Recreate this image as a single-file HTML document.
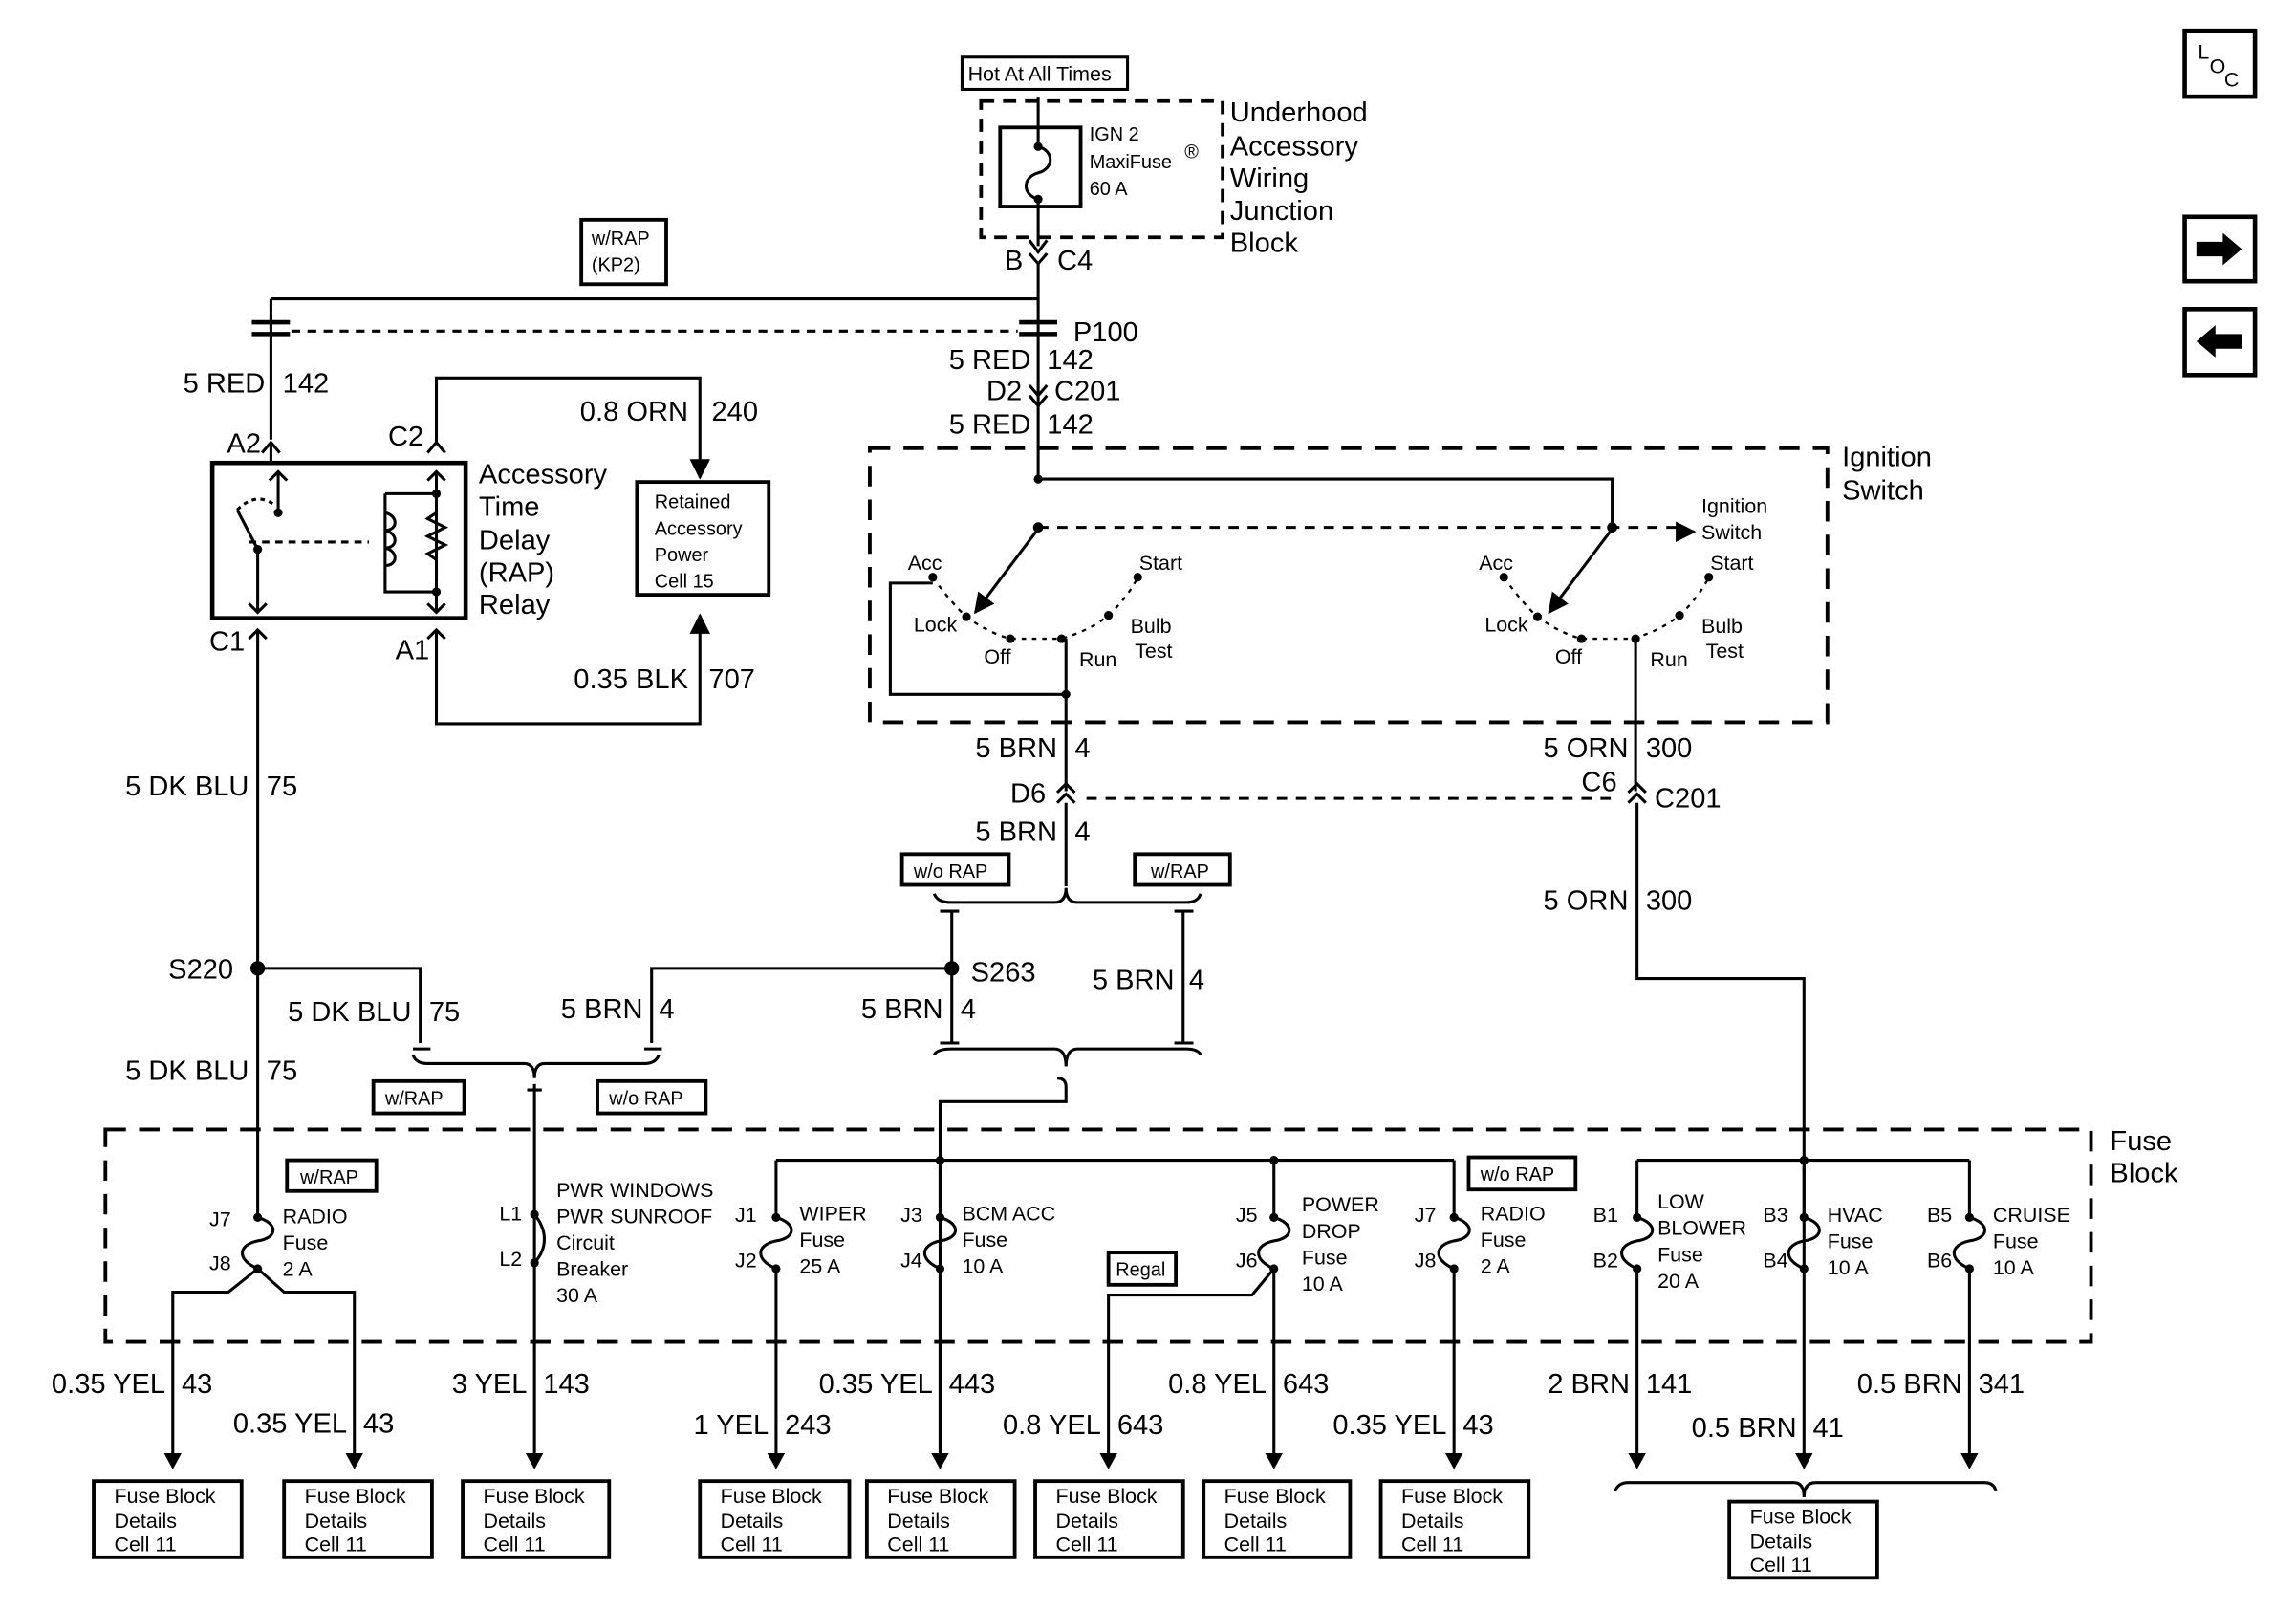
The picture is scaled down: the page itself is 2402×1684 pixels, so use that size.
<!DOCTYPE html>
<html><head><meta charset="utf-8"><style>
html,body{margin:0;padding:0;background:#fff}
svg{display:block}
text{font-family:"Liberation Sans",Arial,sans-serif;fill:#000}
.b{font-size:19px}.s{font-size:14px}.m{font-size:13px}
</style></head><body>
<svg width="2402" height="1684" viewBox="0 0 1568 1099" preserveAspectRatio="none" xmlns="http://www.w3.org/2000/svg">
<defs>
<marker id="ar" viewBox="0 0 10 10" refX="9" refY="5" markerWidth="7" markerHeight="7" orient="auto"><path d="M0,0 L10,5 L0,10z" fill="#000"/></marker>
</defs>
<g fill="none" stroke="#000" stroke-width="2">
<rect x="1492" y="21" width="48" height="45" stroke-width="3"/>
<rect x="1492" y="148" width="48" height="44" stroke-width="3"/>
<rect x="1492" y="211" width="48" height="45" stroke-width="3"/>
<rect x="657" y="39" width="113" height="22"/>
<rect x="670" y="69" width="165" height="93" stroke-dasharray="9,6" stroke-width="2.5"/>
<rect x="683" y="87" width="55" height="54" stroke-width="2.5"/>
<path d="M709,66 V100 C720,103 720,115 709,118 C698,121 698,133 709,136 V168"/>
<path d="M703,164 L709,172 L715,164"/>
<path d="M703,173 L709,180 L715,173"/>
<path d="M709,180 V330"/>
<rect x="397" y="150" width="58" height="44" stroke-width="2.5"/>
<path d="M185,204 H709"/>
<path d="M185,204 V300"/>
<path d="M199,226 H695" stroke-dasharray="6,5"/>
<path d="M172,220 H198 M172,228 H198 M696,220 H722 M696,228 H722" stroke-width="3"/>
<path d="M703,263 L709,270 L715,263 M703,270 L709,277 L715,270"/>
<path d="M179,309 L185,302 L191,309 M185,302 V316"/>
<rect x="145" y="316" width="173" height="106" stroke-width="3"/>
<path d="M292,309 L298,302 L304,309 M298,302 V258 H478 V326" marker-end="url(#ar)"/>
<path d="M298,322 V418 M292,328 L298,322 L304,328 M292,412 L298,418 L304,412"/>
<path d="M190,322 V350 M184,328 L190,322 L196,328"/>
<path d="M176,375 V418 M170,412 L176,418 L182,412"/>
<path d="M176,375 L162,348" />
<path d="M162,348 Q175,335 188,345" stroke-dasharray="3,3"/>
<path d="M170,370 H252" stroke-dasharray="5,4"/>
<path d="M263,337 H298 M263,337 V404 H298 M263,350 C272,352 272,362 263,362 C272,364 272,374 263,374 C272,376 272,386 263,386"/>
<path d="M298,350 L292,354 L304,360 L292,366 L304,372 L292,378 L298,382"/>
<path d="M170,436 L176,430 L182,436 M176,430 V831"/>
<path d="M292,436 L298,430 L304,436 M298,430 V494 H478 V420" marker-end="url(#ar)"/>
<rect x="435" y="329" width="90" height="77" stroke-width="2.5"/>
<rect x="594" y="306" width="654" height="187" stroke-dasharray="14,9" stroke-width="2.5"/>
<path d="M709,327 H1101 V360"/>
<path d="M709,360 H1150" stroke-dasharray="7,6"/>
<path d="M1148,363 L1157,363" marker-end="url(#ar)"/>
<path d="M709,361 L666,418" marker-end="url(#ar)"/>
<path d="M1101,361 L1058,418" marker-end="url(#ar)"/>
<g stroke-dasharray="3,4" stroke-width="1.5">
<path d="M637,394 Q650,412 660,421 Q675,432 690,436 H725 Q745,430 757,420 Q770,408 777,394"/>
<path d="M1027,394 Q1040,412 1050,421 Q1065,432 1080,436 H1115 Q1135,430 1147,420 Q1160,408 1167,394"/>
</g>
<path d="M637,398 H608 V474 H728 M728,436 V540"/>
<path d="M1117,436 V540"/>
<path d="M722,541 L728,535 L734,541 M722,548 L728,542 L734,548 M728,548 V605"/>
<path d="M1112,541 L1118,535 L1124,541 M1112,548 L1118,542 L1124,548 M1118,548 V668 H1232 V1000"/>
<path d="M742,545 H1104" stroke-dasharray="7,6"/>
<rect x="616" y="583" width="73" height="21" stroke-width="2.5"/>
<rect x="775" y="583" width="65" height="21" stroke-width="2.5"/>
<path d="M638,610 Q640,616 650,616 H720 Q728,616 728,606 Q728,616 736,616 H810 Q818,616 820,610"/>
<path d="M638,720 Q640,716 650,716 H720 Q728,716 728,728 Q728,716 736,716 H810 Q818,716 820,720"/>
<path d="M642,622 H655 M650,622 V712 M642,712 H655 M802,622 H815 M808,622 V712 M802,712 H815"/>
<path d="M722,736 Q728,736 728,742 V752 H642 V1000"/>
<path d="M650,661 H445 V712 M440,716 H452"/>
<path d="M176,661 H287 V712 M282,716 H294"/>
<path d="M282,720 Q284,726 292,726 H358 Q365,726 365,736 Q365,726 372,726 H440 Q448,726 450,720"/>
<path d="M360,744 H370 M365,740 V1000"/>
<rect x="255" y="738" width="62" height="22" stroke-width="2.5"/>
<rect x="408" y="738" width="74" height="22" stroke-width="2.5"/>
<rect x="72" y="771" width="1356" height="145" stroke-dasharray="14,9" stroke-width="2.5"/>
<rect x="196" y="792" width="61" height="21" stroke-width="2.5"/>
<rect x="1003" y="790" width="73" height="22" stroke-width="2.5"/>
<rect x="757" y="855" width="46" height="22" stroke-width="2.5"/>
<path d="M530,792 H993 M1118,792 H1345"/>
<path d="M176,831 C190,835 190,845 176,847 C162,850 162,860 176,866 L156,882 H118 V1000 M176,866 L194,882 H242 V1000"/>
<path d="M365,829 C374,840 374,852 365,862"/>
<path d="M530,792 V831 C544,835 544,845 530,847 C516,850 516,860 530,866 V1000"/>
<path d="M642,792 V831 C656,835 656,845 642,847 C628,850 628,860 642,866 V1000"/>
<path d="M870,792 V831 C884,835 884,845 870,847 C856,850 856,860 870,866 V1000 M870,866 L855,884 H757 V1000"/>
<path d="M993,792 V831 C1007,835 1007,845 993,847 C979,850 979,860 993,866 V1000"/>
<path d="M1118,792 V831 C1132,835 1132,845 1118,847 C1104,850 1104,860 1118,866 V1000"/>
<path d="M1232,792 V831 C1246,835 1246,845 1232,847 C1218,850 1218,860 1232,866"/>
<path d="M1345,792 V831 C1359,835 1359,845 1345,847 C1331,850 1331,860 1345,866 V1000"/>
<g stroke-width="2.5">
<rect x="64" y="1011" width="101" height="52"/><rect x="194" y="1011" width="101" height="52"/>
<rect x="316" y="1011" width="100" height="52"/><rect x="478" y="1011" width="102" height="52"/>
<rect x="592" y="1011" width="101" height="52"/><rect x="707" y="1011" width="101" height="52"/>
<rect x="822" y="1011" width="100" height="52"/><rect x="943" y="1011" width="101" height="52"/>
<rect x="1181" y="1025" width="101" height="52"/>
</g>
<path d="M1103,1018 Q1105,1012 1112,1012 H1225 Q1232,1012 1232,1022 Q1232,1012 1240,1012 H1355 Q1362,1012 1363,1018"/>
</g>
<g fill="#000">
<path d="M112,992 L118,1003 L124,992z"/><path d="M236,992 L242,1003 L248,992z"/><path d="M359,992 L365,1003 L371,992z"/>
<path d="M524,992 L530,1003 L536,992z"/><path d="M636,992 L642,1003 L648,992z"/><path d="M751,992 L757,1003 L763,992z"/>
<path d="M864,992 L870,1003 L876,992z"/><path d="M987,992 L993,1003 L999,992z"/><path d="M1112,992 L1118,1003 L1124,992z"/>
<path d="M1226,992 L1232,1003 L1238,992z"/><path d="M1339,992 L1345,1003 L1351,992z"/>
<path d="M1500,165 H1518 V159 L1531,170 L1518,181 V175 H1500z"/>
<path d="M1531,228 H1513 V222 L1500,233 L1513,244 V238 H1531z"/>
<circle cx="709" cy="100" r="3"/><circle cx="709" cy="136" r="3"/>
<circle cx="190" cy="350" r="3"/><circle cx="176" cy="375" r="3"/><circle cx="298" cy="337" r="3"/><circle cx="298" cy="404" r="3"/>
<circle cx="709" cy="327" r="3"/><circle cx="709" cy="360" r="3.5"/><circle cx="1101" cy="360" r="3.5"/>
<circle cx="637" cy="394" r="3"/><circle cx="660" cy="421" r="3"/><circle cx="690" cy="436" r="3"/><circle cx="725" cy="436" r="3"/><circle cx="757" cy="420" r="3"/><circle cx="777" cy="394" r="3"/>
<circle cx="1027" cy="394" r="3"/><circle cx="1050" cy="421" r="3"/><circle cx="1080" cy="436" r="3"/><circle cx="1117" cy="436" r="3"/><circle cx="1147" cy="420" r="3"/><circle cx="1167" cy="394" r="3"/>
<circle cx="728" cy="474" r="3"/>
<circle cx="176" cy="661" r="5"/><circle cx="650" cy="661" r="5"/>
<circle cx="176" cy="831" r="3"/><circle cx="176" cy="866" r="3"/><circle cx="365" cy="829" r="3"/><circle cx="365" cy="862" r="3"/>
<circle cx="530" cy="831" r="3"/><circle cx="530" cy="866" r="3"/><circle cx="642" cy="831" r="3"/><circle cx="642" cy="866" r="3"/>
<circle cx="870" cy="831" r="3"/><circle cx="870" cy="866" r="3"/><circle cx="993" cy="831" r="3"/><circle cx="993" cy="866" r="3"/>
<circle cx="1118" cy="831" r="3"/><circle cx="1118" cy="866" r="3"/><circle cx="1232" cy="831" r="3"/><circle cx="1232" cy="866" r="3"/><circle cx="1345" cy="831" r="3"/><circle cx="1345" cy="866" r="3"/>
<circle cx="1232" cy="792" r="3"/><circle cx="642" cy="792" r="3"/><circle cx="870" cy="792" r="3"/>
</g>
<text x="1501" y="40" class="s">L</text><text x="1509" y="50" class="s">O</text><text x="1519" y="59" class="s">C</text>
<text x="661" y="55" class="s">Hot At All Times</text>
<text x="744" y="96" class="m">IGN 2</text><text x="744" y="115" class="m">MaxiFuse</text><text x="809" y="108" class="m">®</text><text x="744" y="133" class="m">60 A</text>
<text x="840" y="83" class="b">Underhood</text><text x="840" y="106" class="b">Accessory</text><text x="840" y="128" class="b">Wiring</text><text x="840" y="150" class="b">Junction</text><text x="840" y="172" class="b">Block</text>
<text x="686" y="184" class="b">B</text><text x="722" y="184" class="b">C4</text>
<text x="404" y="167" class="m">w/RAP</text><text x="404" y="185" class="m">(KP2)</text>
<text x="733" y="233" class="b">P100</text>
<text x="704" y="252" class="b" text-anchor="end">5 RED</text><text x="715" y="252" class="b">142</text>
<text x="698" y="273" class="b" text-anchor="end">D2</text><text x="720" y="273" class="b">C201</text>
<text x="704" y="296" class="b" text-anchor="end">5 RED</text><text x="715" y="296" class="b">142</text>
<text x="181" y="268" class="b" text-anchor="end">5 RED</text><text x="193" y="268" class="b">142</text>
<text x="155" y="309" class="b">A2</text><text x="265" y="304" class="b">C2</text>
<text x="327" y="330" class="b">Accessory</text><text x="327" y="352" class="b">Time</text><text x="327" y="375" class="b">Delay</text><text x="327" y="397" class="b">(RAP)</text><text x="327" y="419" class="b">Relay</text>
<text x="470" y="287" class="b" text-anchor="end">0.8 ORN</text><text x="486" y="287" class="b">240</text>
<text x="447" y="347" class="m">Retained</text><text x="447" y="365" class="m">Accessory</text><text x="447" y="383" class="m">Power</text><text x="447" y="401" class="m">Cell 15</text>
<text x="143" y="444" class="b">C1</text><text x="270" y="450" class="b">A1</text>
<text x="470" y="470" class="b" text-anchor="end">0.35 BLK</text><text x="484" y="470" class="b">707</text>
<text x="1258" y="318" class="b">Ignition</text><text x="1258" y="341" class="b">Switch</text>
<text x="1162" y="350" class="s">Ignition</text><text x="1162" y="368" class="s">Switch</text>
<text x="620" y="389" class="s">Acc</text><text x="624" y="431" class="s">Lock</text><text x="672" y="453" class="s">Off</text><text x="737" y="455" class="s">Run</text><text x="778" y="389" class="s">Start</text><text x="772" y="432" class="s">Bulb</text><text x="775" y="449" class="s">Test</text>
<text x="1010" y="389" class="s">Acc</text><text x="1014" y="431" class="s">Lock</text><text x="1062" y="453" class="s">Off</text><text x="1127" y="455" class="s">Run</text><text x="1168" y="389" class="s">Start</text><text x="1162" y="432" class="s">Bulb</text><text x="1165" y="449" class="s">Test</text>
<text x="722" y="517" class="b" text-anchor="end">5 BRN</text><text x="734" y="517" class="b">4</text>
<text x="1112" y="517" class="b" text-anchor="end">5 ORN</text><text x="1124" y="517" class="b">300</text>
<text x="690" y="548" class="b">D6</text><text x="1080" y="540" class="b">C6</text><text x="1130" y="551" class="b">C201</text>
<text x="722" y="574" class="b" text-anchor="end">5 BRN</text><text x="734" y="574" class="b">4</text>
<text x="624" y="599" class="m">w/o RAP</text><text x="786" y="599" class="m">w/RAP</text>
<text x="1112" y="621" class="b" text-anchor="end">5 ORN</text><text x="1124" y="621" class="b">300</text>
<text x="170" y="543" class="b" text-anchor="end">5 DK BLU</text><text x="182" y="543" class="b">75</text>
<text x="115" y="668" class="b">S220</text><text x="663" y="670" class="b">S263</text>
<text x="281" y="697" class="b" text-anchor="end">5 DK BLU</text><text x="293" y="697" class="b">75</text>
<text x="439" y="695" class="b" text-anchor="end">5 BRN</text><text x="450" y="695" class="b">4</text>
<text x="644" y="695" class="b" text-anchor="end">5 BRN</text><text x="656" y="695" class="b">4</text>
<text x="802" y="675" class="b" text-anchor="end">5 BRN</text><text x="812" y="675" class="b">4</text>
<text x="170" y="737" class="b" text-anchor="end">5 DK BLU</text><text x="182" y="737" class="b">75</text>
<text x="263" y="754" class="m">w/RAP</text><text x="416" y="754" class="m">w/o RAP</text>
<text x="1441" y="785" class="b">Fuse</text><text x="1441" y="807" class="b">Block</text>
<text x="205" y="808" class="m">w/RAP</text><text x="1011" y="806" class="m">w/o RAP</text><text x="762" y="871" class="m">Regal</text>
<text x="143" y="837" class="s">J7</text><text x="143" y="867" class="s">J8</text>
<text x="193" y="835" class="s">RADIO</text><text x="193" y="853" class="s">Fuse</text><text x="193" y="871" class="s">2 A</text>
<text x="341" y="833" class="s">L1</text><text x="341" y="864" class="s">L2</text>
<text x="380" y="817" class="s">PWR WINDOWS</text><text x="380" y="835" class="s">PWR SUNROOF</text><text x="380" y="853" class="s">Circuit</text><text x="380" y="871" class="s">Breaker</text><text x="380" y="889" class="s">30 A</text>
<text x="502" y="834" class="s">J1</text><text x="502" y="865" class="s">J2</text>
<text x="546" y="833" class="s">WIPER</text><text x="546" y="851" class="s">Fuse</text><text x="546" y="869" class="s">25 A</text>
<text x="615" y="834" class="s">J3</text><text x="615" y="865" class="s">J4</text>
<text x="657" y="833" class="s">BCM ACC</text><text x="657" y="851" class="s">Fuse</text><text x="657" y="869" class="s">10 A</text>
<text x="844" y="834" class="s">J5</text><text x="844" y="865" class="s">J6</text>
<text x="889" y="827" class="s">POWER</text><text x="889" y="845" class="s">DROP</text><text x="889" y="863" class="s">Fuse</text><text x="889" y="881" class="s">10 A</text>
<text x="966" y="834" class="s">J7</text><text x="966" y="865" class="s">J8</text>
<text x="1011" y="833" class="s">RADIO</text><text x="1011" y="851" class="s">Fuse</text><text x="1011" y="869" class="s">2 A</text>
<text x="1088" y="834" class="s">B1</text><text x="1088" y="865" class="s">B2</text>
<text x="1132" y="825" class="s">LOW</text><text x="1132" y="843" class="s">BLOWER</text><text x="1132" y="861" class="s">Fuse</text><text x="1132" y="879" class="s">20 A</text>
<text x="1204" y="834" class="s">B3</text><text x="1204" y="865" class="s">B4</text>
<text x="1248" y="834" class="s">HVAC</text><text x="1248" y="852" class="s">Fuse</text><text x="1248" y="870" class="s">10 A</text>
<text x="1316" y="834" class="s">B5</text><text x="1316" y="865" class="s">B6</text>
<text x="1361" y="834" class="s">CRUISE</text><text x="1361" y="852" class="s">Fuse</text><text x="1361" y="870" class="s">10 A</text>
<text x="113" y="951" class="b" text-anchor="end">0.35 YEL</text><text x="124" y="951" class="b">43</text>
<text x="237" y="978" class="b" text-anchor="end">0.35 YEL</text><text x="248" y="978" class="b">43</text>
<text x="360" y="951" class="b" text-anchor="end">3 YEL</text><text x="371" y="951" class="b">143</text>
<text x="525" y="979" class="b" text-anchor="end">1 YEL</text><text x="536" y="979" class="b">243</text>
<text x="637" y="951" class="b" text-anchor="end">0.35 YEL</text><text x="648" y="951" class="b">443</text>
<text x="752" y="979" class="b" text-anchor="end">0.8 YEL</text><text x="763" y="979" class="b">643</text>
<text x="865" y="951" class="b" text-anchor="end">0.8 YEL</text><text x="876" y="951" class="b">643</text>
<text x="988" y="979" class="b" text-anchor="end">0.35 YEL</text><text x="999" y="979" class="b">43</text>
<text x="1113" y="951" class="b" text-anchor="end">2 BRN</text><text x="1124" y="951" class="b">141</text>
<text x="1227" y="981" class="b" text-anchor="end">0.5 BRN</text><text x="1238" y="981" class="b">41</text>
<text x="1340" y="951" class="b" text-anchor="end">0.5 BRN</text><text x="1351" y="951" class="b">341</text>
<text x="78" y="1026" class="s">Fuse Block</text><text x="78" y="1043" class="s">Details</text><text x="78" y="1059" class="s">Cell 11</text>
<text x="208" y="1026" class="s">Fuse Block</text><text x="208" y="1043" class="s">Details</text><text x="208" y="1059" class="s">Cell 11</text>
<text x="330" y="1026" class="s">Fuse Block</text><text x="330" y="1043" class="s">Details</text><text x="330" y="1059" class="s">Cell 11</text>
<text x="492" y="1026" class="s">Fuse Block</text><text x="492" y="1043" class="s">Details</text><text x="492" y="1059" class="s">Cell 11</text>
<text x="606" y="1026" class="s">Fuse Block</text><text x="606" y="1043" class="s">Details</text><text x="606" y="1059" class="s">Cell 11</text>
<text x="721" y="1026" class="s">Fuse Block</text><text x="721" y="1043" class="s">Details</text><text x="721" y="1059" class="s">Cell 11</text>
<text x="836" y="1026" class="s">Fuse Block</text><text x="836" y="1043" class="s">Details</text><text x="836" y="1059" class="s">Cell 11</text>
<text x="957" y="1026" class="s">Fuse Block</text><text x="957" y="1043" class="s">Details</text><text x="957" y="1059" class="s">Cell 11</text>
<text x="1195" y="1040" class="s">Fuse Block</text><text x="1195" y="1057" class="s">Details</text><text x="1195" y="1073" class="s">Cell 11</text>
</svg>
</body></html>
